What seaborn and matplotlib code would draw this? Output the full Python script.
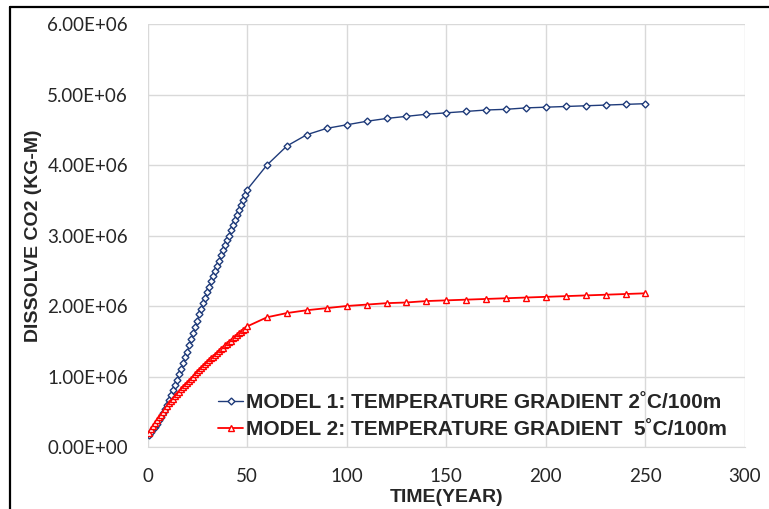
import numpy as np
import pandas as pd
import matplotlib
matplotlib.use("Agg")
import matplotlib.pyplot as plt
import seaborn as sns
from matplotlib.lines import Line2D

# time axis (years): yearly up to 50, then every 10 years
years_dense = list(range(1, 51))
years_sparse = list(range(60, 251, 10))
years = years_dense + years_sparse

# MODEL 1 (2 C/100m), values in 1e6 kg-m
model1 = [0.17, 0.21, 0.25, 0.29, 0.33, 0.38, 0.43, 0.48, 0.54, 0.60,
          0.67, 0.74, 0.81, 0.88, 0.95, 1.03, 1.11, 1.19, 1.27, 1.35,
          1.44, 1.53, 1.61, 1.70, 1.79, 1.88, 1.96, 2.04, 2.12, 2.20,
          2.27, 2.35, 2.42, 2.50, 2.57, 2.64, 2.72, 2.79, 2.86, 2.93,
          3.00, 3.08, 3.15, 3.22, 3.29, 3.36, 3.43, 3.50, 3.58, 3.65,
          4.00, 4.27, 4.43, 4.52, 4.57, 4.62, 4.66, 4.69, 4.72, 4.74,
          4.76, 4.78, 4.79, 4.81, 4.82, 4.83, 4.84, 4.85, 4.86, 4.87]

# MODEL 2 (5 C/100m), values in 1e6 kg-m
model2 = [0.20, 0.25, 0.30, 0.34, 0.38, 0.42, 0.46, 0.50, 0.54, 0.58,
          0.62, 0.65, 0.68, 0.72, 0.75, 0.78, 0.82, 0.85, 0.88, 0.91,
          0.94, 0.97, 1.00, 1.03, 1.06, 1.09, 1.12, 1.15, 1.18, 1.20,
          1.23, 1.26, 1.28, 1.31, 1.34, 1.36, 1.39, 1.41, 1.44, 1.46,
          1.49, 1.51, 1.54, 1.56, 1.59, 1.61, 1.63, 1.66, 1.68, 1.71,
          1.84, 1.90, 1.94, 1.97, 2.00, 2.02, 2.04, 2.05, 2.07, 2.08,
          2.09, 2.10, 2.11, 2.12, 2.13, 2.14, 2.15, 2.16, 2.17, 2.18]

labels = ["MODEL 1: TEMPERATURE GRADIENT 2\u02daC/100m",
          "MODEL 2: TEMPERATURE GRADIENT  5\u02daC/100m"]
yticks = [0, 1e6, 2e6, 3e6, 4e6, 5e6, 6e6]
xticks = [0, 50, 100, 150, 200, 250, 300]

df = pd.DataFrame({
    "year": years + years,
    "co2": np.array(model1 + model2) * 1e6,
    "model": [labels[0]] * len(years) + [labels[1]] * len(years),
})

sns.set_style("white")
plt.rcParams["font.family"] = ["Liberation Sans", "DejaVu Sans"]

W, H = 769, 509
fig = plt.figure(figsize=(W / 100, H / 100), dpi=100)
ax = fig.add_axes([147.5 / W, 1 - 447 / H, (745 - 147.5) / W, (447 - 24) / H])

blue = "#1f3b7a"
red = "#ff0000"
sns.lineplot(data=df[df.model == labels[0]], x="year", y="co2", ax=ax,
             color=blue, lw=1.0, marker="D", markersize=3.5,
             markerfacecolor="white", markeredgecolor=blue, markeredgewidth=1.0,
             label=labels[0])
sns.lineplot(data=df[df.model == labels[1]], x="year", y="co2", ax=ax,
             color=red, lw=1.3, marker="^", markersize=4.5,
             markerfacecolor="white", markeredgecolor=red, markeredgewidth=1.0,
             label=labels[1])

ax.set_xlim(0, 300)
ax.set_ylim(0, 6e6)
ax.set_xticks(xticks)
ax.set_yticks(yticks)
ax.set_xticklabels([str(v) for v in xticks], fontsize=13.5, family="Lato")
ax.set_yticklabels(["%.2fE+%02d" % (v / 1e6 if v else 0, 6 if v else 0) for v in yticks],
                   fontsize=13.5, family="Lato")
ax.tick_params(axis="x", length=0, pad=15)
ax.tick_params(axis="y", length=0, pad=14)
ax.grid(True, color="#d9d9d9", lw=1.0)
for s in ["top", "right", "left"]:
    ax.spines[s].set_visible(False)
ax.spines["bottom"].set_color("#d9d9d9")

ax.set_xlabel("TIME(YEAR)", fontsize=14, fontweight="bold", labelpad=0)
ax.xaxis.set_label_coords(0.5, -0.099)
ax.set_ylabel("DISSOLVE CO2 (KG-M)", fontsize=14, fontweight="bold")
ax.yaxis.set_label_coords(-0.177, 0.5)

ax.legend(loc="center left", bbox_to_anchor=((208 - 147.5) / (745 - 147.5), (447 - 416) / 423),
          frameon=False, prop={"weight": "bold", "size": 15},
          handlelength=1.2, handletextpad=0.1, labelspacing=0.4, borderpad=0)

# outer frame lines (left and top)
fig.add_artist(Line2D([10 / W, 10 / W], [0, 1 - 7 / H], color="black", lw=1.6,
                      transform=fig.transFigure))
fig.add_artist(Line2D([10 / W, 1], [1 - 7 / H, 1 - 7 / H], color="black", lw=1.6,
                      transform=fig.transFigure))

fig.savefig("out.png", dpi=100)
